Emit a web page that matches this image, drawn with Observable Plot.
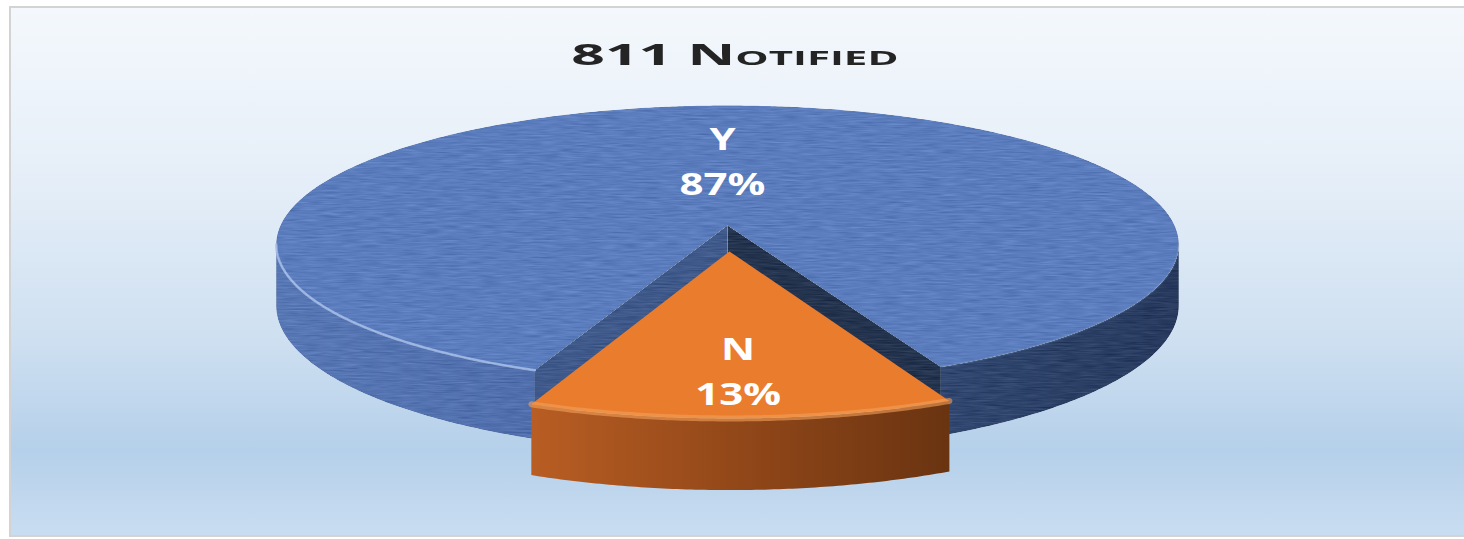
<!DOCTYPE html>
<html>
<head>
<meta charset="utf-8">
<script src="https://cdn.jsdelivr.net/npm/d3@7"></script>
<script src="https://cdn.jsdelivr.net/npm/@observablehq/plot@0.6"></script>
<style>
  html, body { margin: 0; padding: 0; background: #fff; overflow: hidden; }
  body { width: 1464px; height: 539px; position: relative; font-family: "Open Sans", sans-serif; }
  #frame { position: absolute; left: 9px; top: 6px; width: 1470px; height: 531px; box-sizing: border-box;
    border-top: 2px solid #d3d3d3; border-left: 2px solid #d3d3d3; border-bottom: 2px solid #d3d3d3;
    background: linear-gradient(to bottom, #f4f8fc 0%, #e5eef8 33%, #cfe0f1 62%, #b5d0ea 84%, #c9ddf1 100%); }
  #title { position: absolute; top: 40px; left: 0; width: 1464px; padding-left: 6px; box-sizing: border-box; text-align: center;
    font: bold 28px/28px "Open Sans", sans-serif; color: #242424; font-variant: small-caps; }
  #title span { display: inline-block; transform: scaleX(2.1); transform-origin: center; }
  #chart { position: absolute; left: 0; top: 80px; }
  svg { display: block; }
</style>
</head>
<body>
<div id="frame"></div>
<div id="title"><span>811 Notified</span></div>
<div id="chart"></div>
<script>
// ---- data ----
const categories = ["Y", "N"];
const values = [87, 13];
const percentLabels = ["87%", "13%"];

// ---- layout / style (not data) ----
const W = 1464, H = 459, TOP = 80;
const view = {cx: 727, cy: 225 - TOP, A: 447, B: 136.4, k: 0.137, D: 60};
const explodeBy = {Y: 0, N: 0.185};
const labelRadius = {Y: 0.53, N: 0.73};
const rotation = 1.3 * Math.PI / 180;
const styles = {
  Y: {top: "#5b7dbd", side: "url(#blueSide)", wall0: "#24344f", wall1: "#3e598a", rim: "#abc2ec", rimOpacity: [0.8, 0.12], rimWidth: 2.5},
  N: {top: "#ea7c2d", side: "url(#orangeSide)", wall0: "#8a4418", wall1: "#8a4418", rim: "#f3a05a", rimOpacity: [0.6, 0.6], rimWidth: 6}
};

function proj(X, Z, h) {
  const f = 1 / (1 - view.k * Z);
  return {x: view.cx + view.A * X * f, y: view.cy + (view.B * Z + view.D * h) * f};
}

const total = d3.sum(values);
const start = rotation + Math.PI * values[values.length - 1] / total;
const arcs = d3.pie().sort(null).startAngle(start).endAngle(start + 2 * Math.PI)(values);
const c = Math.acos(view.k);
const step = Math.PI / 360;

const slices = arcs.map((a, i) => {
  const cat = categories[i];
  const mid = (a.startAngle + a.endAngle) / 2;
  const e = explodeBy[cat];
  const ox = e * Math.sin(mid), oz = e * Math.cos(mid);
  const pt = (t, r, h) => proj(ox + r * Math.sin(t), oz + r * Math.cos(t), h);
  const arc = (t0, t1, h) => {
    const n = Math.max(2, Math.ceil(Math.abs(t1 - t0) / step));
    return d3.range(n + 1).map(j => pt(t0 + (t1 - t0) * j / n, 1, h));
  };
  const top = [pt(0, 0, 0), ...arc(a.startAngle, a.endAngle, 0)];
  const sides = [];
  for (const m of [-1, 0, 1, 2]) {
    const lo = Math.max(a.startAngle, -c + 2 * Math.PI * m);
    const hi = Math.min(a.endAngle, c + 2 * Math.PI * m);
    if (hi > lo) sides.push({poly: [...arc(lo, hi, 0), ...arc(hi, lo, 1)], rim: arc(lo, hi, 0), left: Math.sin((lo + hi) / 2) < 0});
  }
  const walls = [];
  if (Math.sin(a.startAngle) > 0) walls.push({fill: styles[cat].wall0, poly: [pt(0,0,0), pt(a.startAngle,1,0), pt(a.startAngle,1,1), pt(0,0,1)]});
  if (-Math.sin(a.endAngle) > 0) walls.push({fill: styles[cat].wall1, poly: [pt(0,0,0), pt(a.endAngle,1,0), pt(a.endAngle,1,1), pt(0,0,1)]});
  const lp = pt(mid, labelRadius[cat], 0);
  return {cat, depth: Math.cos(mid) + e, top, sides, walls, label: {x: lp.x, y: lp.y, text: `${cat}\n${percentLabels[i]}`}};
});
slices.sort((a, b) => a.depth - b.depth);

const marks = [];
for (const s of slices) {
  const st = styles[s.cat];
  for (const w of s.walls) marks.push(Plot.line(w.poly, {x: "x", y: "y", fill: w.fill, stroke: "none", curve: "linear-closed", ariaDescription: `wall-${s.cat}`}));
  for (const sd of s.sides) marks.push(Plot.line(sd.poly, {x: "x", y: "y", fill: st.side, stroke: "none", curve: "linear-closed", ariaDescription: `side-${s.cat}`}));
  marks.push(Plot.line(s.top, {x: "x", y: "y", fill: st.top, stroke: "none", curve: "linear-closed", ariaDescription: `top-${s.cat}`}));
  for (const sd of s.sides) marks.push(Plot.line(sd.rim, {x: "x", y: "y", stroke: st.rim, strokeWidth: st.rimWidth, strokeOpacity: sd.left ? st.rimOpacity[0] : st.rimOpacity[1], ariaDescription: `rim-${s.cat}`}));
}
marks.push(Plot.text(slices.map(s => s.label), {x: "x", y: "y", text: "text", fill: "white", fontSize: 30, fontWeight: "bold", fontFamily: "Open Sans", lineHeight: 1.5, ariaDescription: "labels"}));

const svg = Plot.plot({
  width: W, height: H, margin: 0,
  x: {domain: [0, W], range: [0, W], axis: null},
  y: {domain: [0, H], range: [0, H], axis: null},
  style: {background: "transparent", overflow: "visible"},
  marks
});

const ext = view.A / Math.sqrt(1 - view.k * view.k);
svg.insertAdjacentHTML("afterbegin", `<defs>
<linearGradient id="blueSide" gradientUnits="userSpaceOnUse" x1="${view.cx - ext}" y1="0" x2="${view.cx + ext}" y2="0">
  <stop offset="0" stop-color="#5878b5"/><stop offset="0.3" stop-color="#4f6eab"/><stop offset="0.6" stop-color="#405b92"/>
  <stop offset="0.75" stop-color="#31476f"/><stop offset="1" stop-color="#283a5e"/></linearGradient>
<linearGradient id="orangeSide" gradientUnits="userSpaceOnUse" x1="${view.cx - 210}" y1="0" x2="${view.cx + 220}" y2="0">
  <stop offset="0" stop-color="#bb5f24"/><stop offset="0.5" stop-color="#934819"/><stop offset="1" stop-color="#6a3411"/></linearGradient>
<filter id="tex" color-interpolation-filters="sRGB">
  <feTurbulence type="fractalNoise" baseFrequency="0.05 0.6" numOctaves="2" seed="4" result="n"/>
  <feColorMatrix in="n" type="matrix" values="0.33 0.33 0.33 0 0  0.33 0.33 0.33 0 0  0.33 0.33 0.33 0 0  0 0 0 0 1" result="g"/>
  <feComposite in="SourceGraphic" in2="g" operator="arithmetic" k1="0" k2="1" k3="0.26" k4="-0.13" result="m"/>
  <feComposite in="m" in2="SourceGraphic" operator="in"/>
</filter>
</defs>`);

svg.querySelectorAll('g[aria-description="top-Y"], g[aria-description="side-Y"], g[aria-description="wall-Y"]').forEach(g => g.setAttribute("filter", "url(#tex)"));
svg.querySelectorAll('g[aria-description="labels"] text').forEach(t => {
  const tr = t.getAttribute("transform") || "";
  const x = +t.getAttribute("x") || 0, y = +t.getAttribute("y") || 0;
  t.removeAttribute("x"); t.removeAttribute("y");
  t.setAttribute("transform", `${tr} translate(${x},${y}) scale(1.4,1)`);
});

document.getElementById("chart").appendChild(svg);
</script>
</body>
</html>
